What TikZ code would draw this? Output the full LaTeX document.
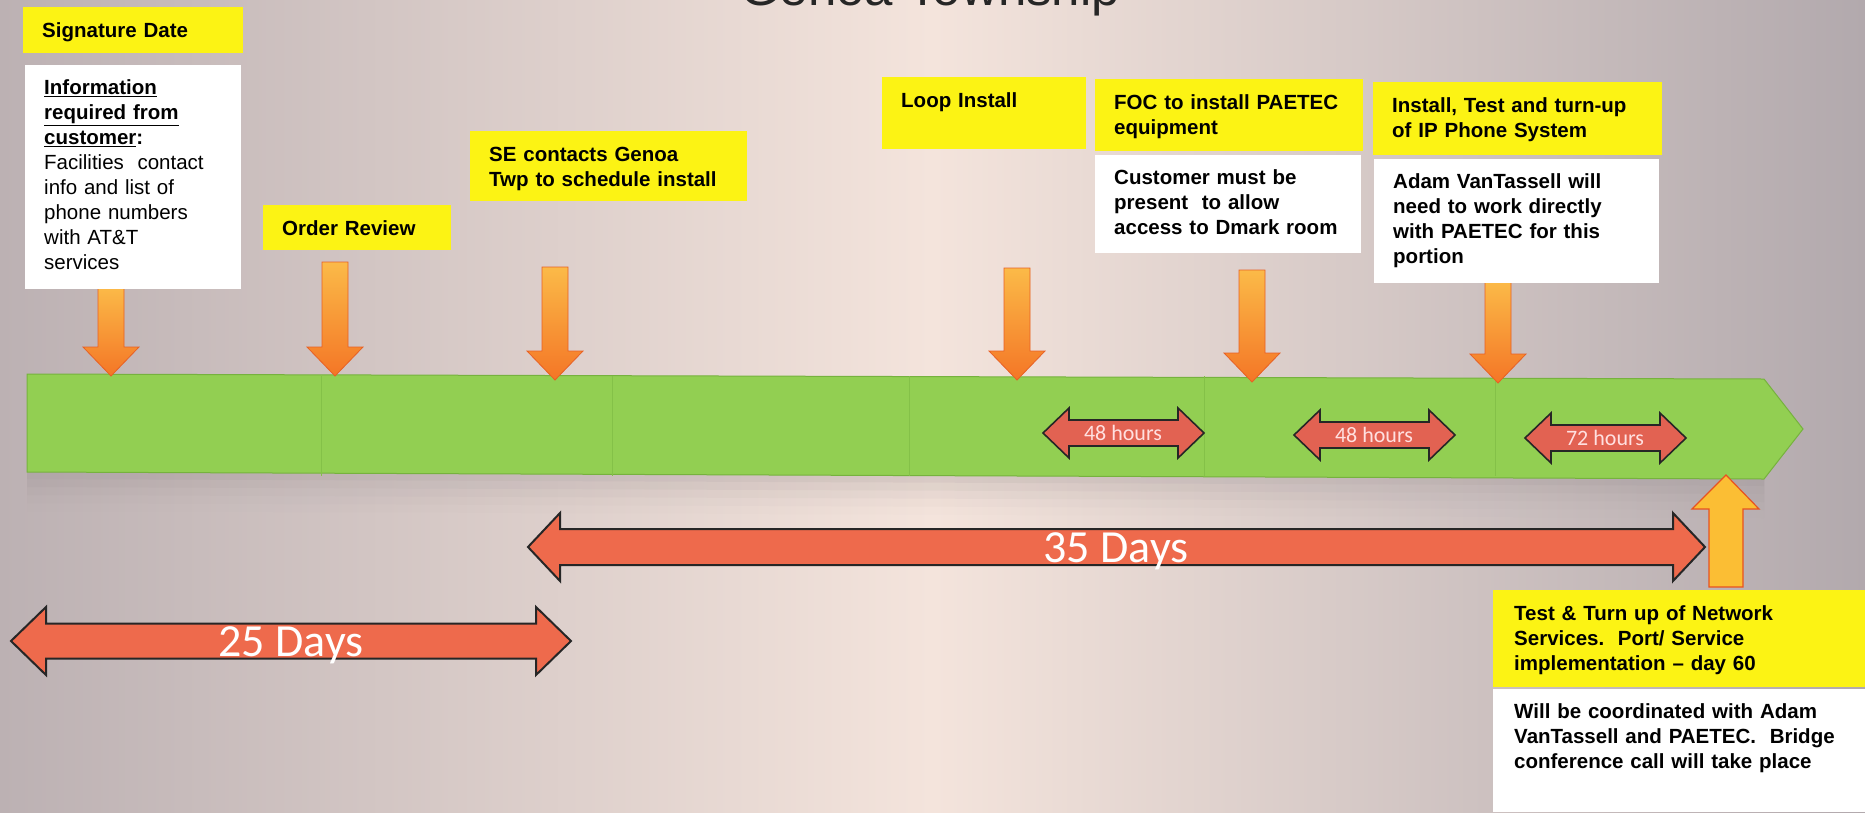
\documentclass[tikz,border=0pt]{standalone}
\usepackage{fontspec}
\setmainfont{Liberation Sans}
\newfontfamily\calibri{Carlito}
\usetikzlibrary{positioning}

\definecolor{bgside}{RGB}{188,177,179}
\definecolor{bgmid}{RGB}{244,228,220}
\definecolor{bgright}{RGB}{178,169,173}
\definecolor{tagyellow}{RGB}{252,243,20}
\definecolor{bandgreen}{RGB}{146,207,82}
\definecolor{bandedge}{RGB}{118,178,62}
\definecolor{bandshade}{RGB}{150,140,142}
\definecolor{droptop}{RGB}{251,186,72}
\definecolor{dropbottom}{RGB}{244,118,38}
\definecolor{dropedge}{RGB}{232,96,36}
\definecolor{spanred}{RGB}{238,106,76}
\definecolor{hourred}{RGB}{226,98,82}
\definecolor{goalyellow}{RGB}{251,190,52}
\definecolor{goaledge}{RGB}{232,82,32}

\newcommand{\boxfont}{\fontsize{20.5}{25}\selectfont\bfseries}

\newcommand{\dropat}[3]{% x, top, tip
  \shadedraw[drop] (#1-13,#2) -- (#1+13,#2) -- (#1+13,#3-29) -- (#1+28,#3-29)
    -- (#1,#3) -- (#1-28,#3-29) -- (#1-13,#3-29) -- cycle;}

\newcommand{\spanarrow}[7]{% style, left tip, right tip, mid, shaft, head, head length
  \filldraw[#1] (#2,#4) -- (#2+#7,#4-#6) -- (#2+#7,#4-#5) -- (#3-#7,#4-#5)
    -- (#3-#7,#4-#6) -- (#3,#4) -- (#3-#7,#4+#6) -- (#3-#7,#4+#5)
    -- (#2+#7,#4+#5) -- (#2+#7,#4+#6) -- cycle;}

\tikzset{tag/.style = {fill = tagyellow, anchor = north west, align = left,
                       inner xsep = 19pt, inner ysep = 0pt,
                       text height = 30pt, font = \boxfont},
         note/.style = {tag, fill = white},
         drop/.style = {top color = droptop, bottom color = dropbottom,
                        draw = dropedge, line width = 0.8pt},
         daysarrow/.style = {fill = spanred, draw = black!85, line width = 2pt},
         hoursarrow/.style = {fill = hourred, draw = black!85, line width = 1.6pt},
         goal/.style = {fill = goalyellow, draw = goaledge, line width = 1.2pt},
         days/.style = {anchor = base, text = white,
                        font = \calibri\fontsize{46}{46}\selectfont},
         hours/.style = {anchor = base, text = white!88!red,
                         font = \calibri\fontsize{22}{22}\selectfont}}

\begin{document}
\begin{tikzpicture}[x = 1pt, y = -1pt]
        \useasboundingbox (0,0) rectangle (1865,812);
        \clip (0,0) rectangle (1865,812);
        \shade[left color = bgside, right color = bgright, middle color = bgmid]
              (0,0) rectangle (1865,812);

        \node[anchor = base, font = \fontsize{51}{51}\selectfont, text = black!85]
              (title) at (930,5) {Genoa Township};

        \foreach \d/\o in {0/0.10, 8/0.08, 16/0.06, 24/0.04, 32/0.02}
            \fill[bandshade, opacity = \o]
                  (27,472) -- (1764,479) -- (1764,486+\d) -- (27,479+\d) -- cycle;
        \filldraw[fill = bandgreen, draw = bandedge, line width = 1pt]
              (27,374) -- (1764,379) -- (1803,429) -- (1764,479) -- (27,472) -- cycle;
        \foreach \x in {321,612,909,1204,1495}
            \draw[bandedge!50!bandgreen, line width = 0.6pt] (\x,376) -- (\x,476);

        \dropat{111}{287}{376}
        \dropat{335}{262}{376}
        \dropat{555}{267}{380}
        \dropat{1017}{268}{380}
        \dropat{1252}{270}{382}
        \dropat{1498}{281}{383}

        \spanarrow{hoursarrow}{1043}{1204}{433}{13}{25}{26}
        \spanarrow{hoursarrow}{1294}{1455}{435}{13}{25}{26}
        \spanarrow{hoursarrow}{1525}{1686}{438}{13}{25}{26}
        \node[hours] (h1) at (1123,440) {48 hours};
        \node[hours] (h2) at (1374,442) {48 hours};
        \node[hours] (h3) at (1605,445) {72 hours};

        \spanarrow{daysarrow}{528}{1705}{547}{18}{34}{32}
        \spanarrow{daysarrow}{11}{571}{641}{17.5}{34}{35}
        \node[days] (d35) at (1116,562) {35 Days};
        \node[days] (d25) at (291,656) {25 Days};

        \filldraw[goal] (1726,475) -- (1759,509) -- (1743,509) -- (1743,587)
              -- (1709,587) -- (1709,509) -- (1692,509) -- cycle;

        \node[tag, text width = 182pt, text depth = 16pt]  (sig)   at (23,7)    {Signature Date};
        \node[note, text width = 178pt, text depth = 194pt]
              (info) [below right = 11pt and 2pt of sig.south west]
              {\underline{Information}\\ \underline{required from}\\ \underline{customer}:\\
               \mdseries Facilities\ \ contact\\ info and list of\\ phone numbers\\
               with AT\&T\\ services};
        \node[tag, text width = 150pt, text depth = 15pt]  (order) at (263,205) {Order Review};
        \node[tag, text width = 239pt, text depth = 40pt]  (se)    at (470,131)
              {SE contacts Genoa\\ Twp to schedule install};
        \node[tag, text width = 166pt, text depth = 42pt]  (loop)  at (882,77)  {Loop Install};
        \node[tag, text width = 230pt, text depth = 42pt]  (foc)   at (1095,79)
              {FOC to install PAETEC\\ equipment};
        \node[note, text width = 228pt, text depth = 68pt]
              (focnote) [below right = 3pt and 0pt of foc.south west]
              {Customer must be\\ present\ \ to allow\\ access to Dmark room};
        \node[tag, text width = 251pt, text depth = 43pt]  (ipsys) at (1373,82)
              {Install, Test and turn-up\\ of IP Phone System};
        \node[note, text width = 247pt, text depth = 94pt]
              (ipnote) [below right = 3pt and 1pt of ipsys.south west]
              {Adam VanTassell will\\ need to work directly\\ with PAETEC for this\\ portion};
        \node[tag, inner xsep = 21pt, text width = 370pt, text depth = 67pt]
              (net) at (1493,590)
              {Test \& Turn up of Network\\ Services.\ \ Port/ Service\\ implementation – day 60};
        \node[note, inner xsep = 21pt, text width = 370pt, text depth = 93pt]
              (netnote) [below right = 1pt and 0pt of net.south west]
              {Will be coordinated with Adam\\ VanTassell and PAETEC.\ \ Bridge\\
               conference call will take place};
\end{tikzpicture}
\end{document}
